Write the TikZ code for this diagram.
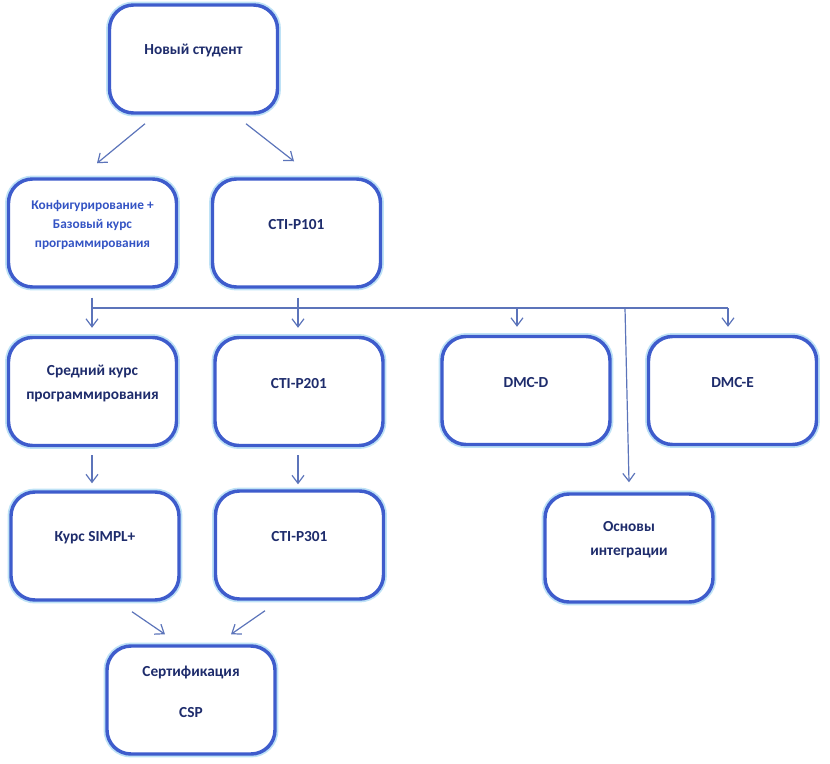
\documentclass[tikz,border=0pt]{standalone}
\usepackage{fontspec}
\setmainfont{Carlito}
\usepackage{tikz}
\usetikzlibrary{arrows.meta,calc}

\definecolor{edge}{RGB}{62,92,204}
\definecolor{halo}{RGB}{190,226,246}
\definecolor{ink}{RGB}{30,44,108}
\definecolor{lightink}{RGB}{52,84,196}
\definecolor{wirecol}{RGB}{92,116,186}

\tikzset{
  course/.style={draw=edge,line width=2.6pt,rounded corners=18pt,fill=white,
    minimum width=126pt,minimum height=81pt,
    preaction={draw=halo,line width=5.2pt}},
  txt/.style={font=\bfseries\fontsize{11.5}{14.5}\selectfont,text=ink,align=center,yshift=6pt},
  smalltxt/.style={txt,font=\bfseries\fontsize{10}{14.6}\selectfont,text=lightink},
  wire/.style={draw=wirecol,line width=0.9pt},
  flow/.style={wire,->}
}

\begin{document}
\begin{tikzpicture}[x=0.75pt,y=-0.75pt,>={Straight Barb[length=6pt,width=9pt]}]
\useasboundingbox (0,0) rectangle (830,763);
\node[course,label={[txt]center:Новый студент}] (novice) at (193.5,59) {};
\node[course,label={[smalltxt]center:{Конфигурирование +\\Базовый курс\\программирования}}] (config) at (92.5,233) {};
\node[course,label={[txt]center:CTI-P101}] (p101) at (296.5,233) {};
\node[course,label={[txt]center:{Средний курс\\[3.5pt]программирования}}] (middle) at (92.5,391.5) {};
\node[course,label={[txt]center:CTI-P201}] (p201) at (299,391.5) {};
\node[course,label={[txt]center:DMC-D}] (dmcd) at (526,390.5) {};
\node[course,label={[txt]center:DMC-E}] (dmce) at (732.5,390.5) {};
\node[course,label={[txt]center:Курс SIMPL+}] (simpl) at (95,546) {};
\node[course,label={[txt]center:CTI-P301}] (p301) at (299.5,545) {};
\node[course,label={[txt]center:{Основы\\[3.5pt]интеграции}}] (basics) at (629,548) {};
\node[course,label={[txt]center:{Сертификация\\[16pt]CSP}}] (csp) at (191,700) {};
% common bus under the first row
\coordinate (busL) at (92,308);
\coordinate (busP) at (298,308);
\coordinate (busD) at (517,308);
\coordinate (busI) at (625,308);
\coordinate (busR) at (728,308);
\draw[wire] ($(config.south)+(-0.5,9)$) -- (busL) -- (busR);
\draw[wire] ($(p101.south)+(1.5,9)$) -- (busP);
\draw[flow] ($(novice.south)+(-48.5,9)$) -- ($(config.north)+(4.5,-14)$);
\draw[flow] ($(novice.south)+(52.5,9)$) -- ($(p101.north)+(-2.5,-16)$);
\draw[flow] (busL) -- ($(middle.north)+(-0.5,-8)$);
\draw[flow] (busP) -- ($(p201.north)+(-1,-8)$);
\draw[flow] (busD) -- ($(dmcd.north)+(-9,-8)$);
\draw[flow] (busR) -- ($(dmce.north)+(-4.5,-8)$);
\draw[flow] (busI) -- ($(basics.north)+(0,-10)$);
\draw[flow] ($(middle.south)+(-0.5,8)$) -- ($(simpl.north)+(-3,-7)$);
\draw[flow] ($(p201.south)+(-1,8)$) -- ($(p301.north)+(-1.5,-5)$);
\draw[flow] ($(simpl.south)+(37,10)$) -- ($(csp.north)+(-26,-10)$);
\draw[flow] ($(p301.south)+(-34.5,10)$) -- ($(csp.north)+(40,-10)$);
\end{tikzpicture}
\end{document}
